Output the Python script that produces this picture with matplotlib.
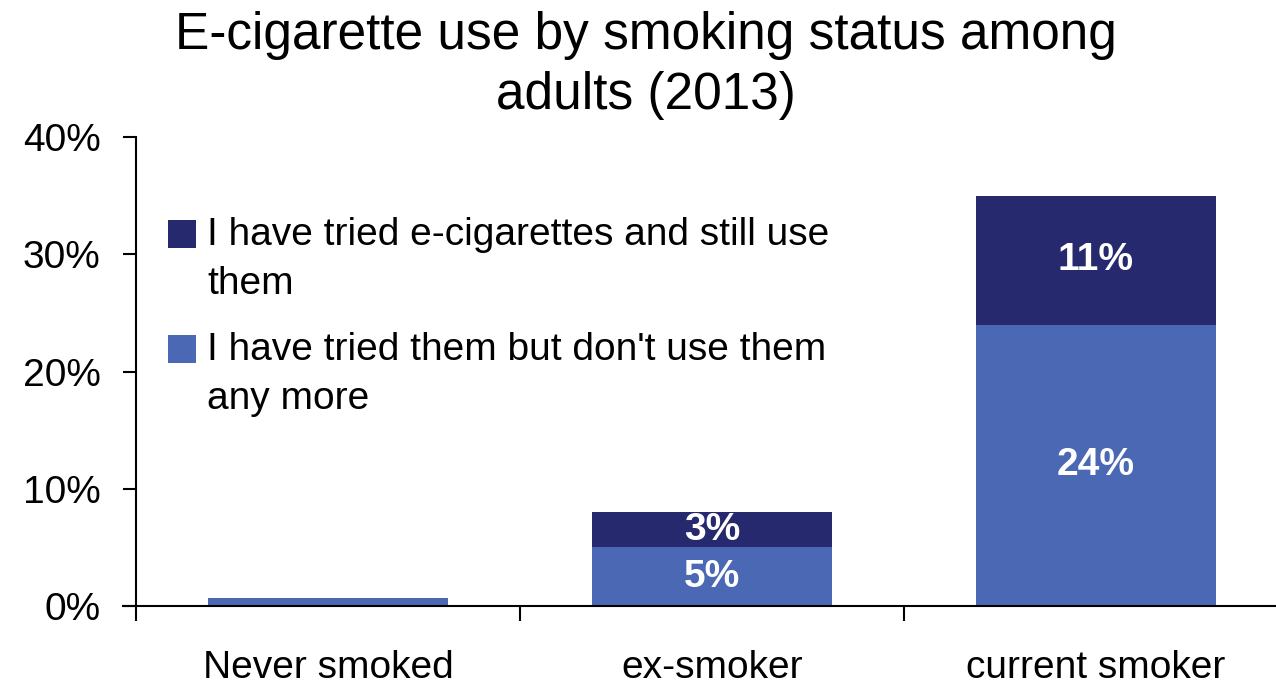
import matplotlib
matplotlib.use("Agg")
import matplotlib.pyplot as plt
from matplotlib.patches import Rectangle
from matplotlib.ticker import FixedLocator, FuncFormatter

categories = ["Never smoked", "ex-smoker", "current smoker"]
tried_stopped = [0.7, 5, 24]      # light blue (bottom)
still_use = [0, 3, 11]            # dark navy (top)
show_labels = [False, True, True]
legend_labels = ["I have tried e-cigarettes and still use\nthem",
                 "I have tried them but don't use them\nany more"]
title = "E-cigarette use by smoking status among\nadults (2013)"
yticks = [0, 10, 20, 30, 40]

W, H = 1276, 684
DARK = "#27296f"
LIGHT = "#4a68b4"
FONT = "Liberation Sans"
FS = 28
plt.rcParams["font.family"] = [FONT, "DejaVu Sans"]

fig = plt.figure(figsize=(W / 100, H / 100), dpi=100)
left, right, bottom, top = 136, 1276, 606, 137
ax = fig.add_axes([left / W, (H - bottom) / H, (right - left) / W, (bottom - top) / H])

x = list(range(len(categories)))
bw = 0.625
ax.bar(x, tried_stopped, width=bw, color=LIGHT, zorder=2)
ax.bar(x, still_use, width=bw, bottom=tried_stopped, color=DARK, zorder=2)

for i in x:
    if show_labels[i]:
        ax.text(i, tried_stopped[i] / 2, f"{tried_stopped[i]:.0f}%", ha="center", va="center",
                color="white", fontsize=FS, fontweight="bold", zorder=3)
        ax.text(i, tried_stopped[i] + still_use[i] / 2, f"{still_use[i]:.0f}%", ha="center",
                va="center", color="white", fontsize=FS, fontweight="bold", zorder=3)

ax.set_ylim(0, 40)
ax.set_xlim(-0.5, -0.5 + (right - left) / 384)
for s in ["top", "right"]:
    ax.spines[s].set_visible(False)
ax.spines["left"].set_linewidth(1.5)
ax.spines["bottom"].set_linewidth(1.5)
ax.spines["bottom"].set_zorder(4)

ax.yaxis.set_major_locator(FixedLocator(yticks))
ax.yaxis.set_major_formatter(FuncFormatter(lambda v, p: f"{v:.0f}%"))
ax.tick_params(axis="y", length=9.5, width=1.5, pad=16, labelsize=FS)

ax.set_xticks(x)
ax.set_xticklabels(categories)
ax.set_xticks([-0.5, 0.5, 1.5], minor=True)
ax.tick_params(axis="x", which="major", length=0, pad=32, labelsize=FS)
ax.tick_params(axis="x", which="minor", length=11, width=1.5)

# bottom spine extends left past the y axis
ax.plot([-0.5 - 13 / 384, -0.5], [0, 0], color="black", lw=1.5, clip_on=False, zorder=4)

# title
fig.text(646 / W, 1 - 11 / H, title, ha="center", va="top", fontsize=37,
         linespacing=1.3)

# manual legend
def fx(px):
    return px / W

def fy(py):
    return 1 - py / H

for j, (lab, col) in enumerate(zip(legend_labels, [DARK, LIGHT])):
    y0 = 220 + j * 115
    fig.patches.append(Rectangle((fx(168), fy(y0 + 28)), 28 / W, 28 / H,
                                 transform=fig.transFigure, facecolor=col,
                                 edgecolor="none"))
    fig.text(fx(207), fy(y0 - 3), lab, ha="left", va="top", fontsize=FS,
             linespacing=1.48)

fig.savefig("out.png", dpi=100)
